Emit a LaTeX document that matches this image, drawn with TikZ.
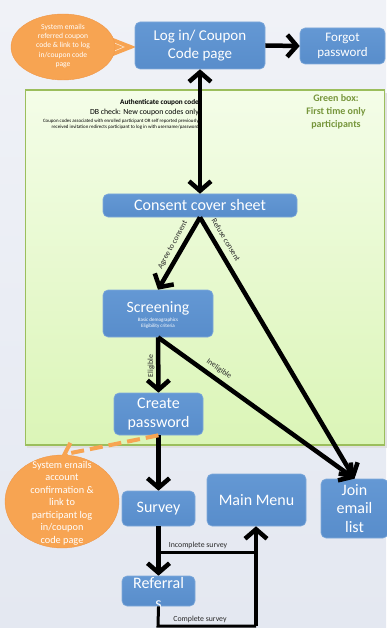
\documentclass[tikz,border=0pt]{standalone}
\usepackage{fontspec}
\setmainfont{Carlito}
\usetikzlibrary{arrows.meta,shapes.geometric}
\definecolor{bgtop}{RGB}{240,242,247}
\definecolor{bgbot}{RGB}{228,232,241}
\definecolor{boxblue}{RGB}{88,141,203}
\definecolor{boxbluetop}{RGB}{100,152,212}
\definecolor{boxedge}{RGB}{128,170,218}
\definecolor{orng}{RGB}{247,164,82}
\definecolor{orngdark}{RGB}{240,150,70}
\definecolor{gtop}{RGB}{244,253,232}
\definecolor{gbot}{RGB}{219,245,183}
\definecolor{gedge}{RGB}{155,190,92}
\definecolor{gtext}{RGB}{119,150,60}
\definecolor{lbl}{RGB}{40,40,40}
\newcommand\myfs[2]{\fontsize{#1}{#2}\selectfont}
\tikzset{
  bbox/.style={draw=boxedge, line width=0.6pt, top color=boxbluetop, bottom color=boxblue,
    rounded corners=5pt, text=white, align=center, inner sep=0pt},
  arr/.style={line width=4.5pt, -{Straight Barb[length=9.5pt,width=22pt]}},
  darr/.style={line width=4.5pt, {Straight Barb[length=9.5pt,width=22pt]}-{Straight Barb[length=9.5pt,width=22pt]}},
  thinln/.style={line width=3pt},
  odash/.style={line width=4pt, draw=orng, dash pattern=on 13pt off 6pt, -{Straight Barb[length=8pt,width=20pt]}},
  oell/.style={ellipse, fill=orng, draw=orngdark, line width=0.4pt, inner sep=0pt},
  otext/.style={text=white, align=center, inner sep=0pt},
  elbl/.style={text=lbl, font=\myfs{7.8}{9}, inner sep=1pt}
}
\begin{document}
\begin{tikzpicture}[x=1pt,y=-1pt]
\useasboundingbox (0,0) rectangle (386,628);
% background
\shade[top color=bgtop, bottom color=bgbot] (0,0) rectangle (386,628);
% green box
\fill[black!12] (27,93) rectangle (387,448);
\node[draw=gedge, line width=1.6pt, top color=gtop, bottom color=gbot, minimum width=359, minimum height=355, inner sep=0pt] (gbox) at (205,267.5) {};
\node[text=gtext, font=\bfseries\myfs{10}{13}, align=center] (gtitle) at (336,112) {Green box:\\First time only\\participants};
\node[anchor=east, align=right, inner sep=0pt, font=\myfs{7.8}{10}] (auth) at (199,108) {{\bfseries\myfs{7.2}{10}Authenticate coupon code}\\DB check: New coupon codes only};
\node[anchor=east, align=right, inner sep=0pt, font=\myfs{4.9}{6}] (authsmall) at (199,124) {Coupon codes associated with enrolled participant OR self reported previously\\received invitation redirects participant to log in with username/password};

% top ellipse
\fill[orng] (108,36) -- (136,47) -- (108,58) -- cycle;
\draw[white!70!orng, line width=0.6pt] (112,42) -- (124,47) -- (112,52);
\node[oell, minimum width=104, minimum height=66] (em1) at (63,47) {};
\node[otext, font=\myfs{7.6}{9.3}] (em1t) at (63,46) {System emails\\referred coupon\\code \& link to log\\in/coupon code\\page};

% boxes
\node[bbox, minimum width=130, minimum height=47, font=\myfs{15}{18.5}] (login) at (200,45.5) {Log in/ Coupon\\Code page};
\node[bbox, minimum width=85, minimum height=36, font=\myfs{13}{15.5}] (forgot) at (342.5,46) {Forgot\\password};
\node[bbox, minimum width=194, minimum height=23, font=\myfs{16}{18}] (consent) at (200,205.5) {Consent cover sheet};
\node[bbox, minimum width=110, minimum height=47] (screen) at (158,313.5) {};
\node[text=white, inner sep=0pt, font=\myfs{15.8}{18}] (screent) at (158,308) {Screening};
\node[text=white, inner sep=0pt, align=center, font=\myfs{5}{6.2}] (screensub) at (158,323) {Basic demographics\\Eligibility criteria};
\node[bbox, minimum width=89, minimum height=42, font=\myfs{16}{18.5}] (create) at (158.5,414) {Create\\password};
\node[bbox, minimum width=73, minimum height=35, font=\myfs{16}{18.5}] (survey) at (158.5,508.5) {Survey};
\node[bbox, minimum width=99, minimum height=52, font=\myfs{16}{18.5}] (mainmenu) at (256.5,500) {Main Menu};
\node[bbox, minimum width=67, minimum height=59, font=\myfs{16}{18.5}] (join) at (354.5,508.5) {Join\\email\\list};
\node[bbox, minimum width=73, minimum height=30] (ref) at (158.5,591) {};
\node[text=white, align=center, inner sep=0pt, font=\myfs{16}{20}] (reft) at (158.5,593) {Referral\\s};

% bottom ellipse
\node[oell, minimum width=114, minimum height=93] (em2) at (62,501.5) {};
\node[otext, font=\myfs{10.3}{12.5}] (em2t) at (62,503) {System emails\\account\\confirmation \&\\link to\\participant log\\in/coupon\\code page};

% labels
\node[elbl, rotate=90] (lelig) at (151,366) {Eligible};

% connectors
\draw[darr] (consent.north) -- (login.south);
\draw[arr] (login.east) -- (forgot.west);
\draw[arr] (consent.south) -- (screen.north);
\draw[arr] (consent.south) -- (join.north);
\draw[arr] (screen.south) -- (create.north);
\draw[arr] (screen.south) -- (join.north);
\draw[arr] (create.south) -- (survey.north);
\draw[arr] (survey.south) -- (ref.north);
\draw[odash] (create.south) -- (em2.north);

\coordinate (j1) at (158,552);
\coordinate (j2) at (256,552);
\coordinate (j3) at (158,626);
\coordinate (j4) at (256,626);
\draw[thinln] (j1) -- (j2);
\draw[thinln] (ref.south) -- (j3) -- (j4);
\draw[arr] (j4) -- (j4 |- mainmenu.south);

\node[elbl, rotate=61.5] (lagree) at (173,245) {Agree to consent};
\node[elbl, rotate=-59] (lrefuse) at (226,240) {Refuse consent};
\node[elbl, rotate=-35] (linel) at (219,369) {Ineligible};
\node[elbl] (linc) at (198,545) {Incomplete survey};
\node[elbl] (lcomp) at (200,619) {Complete survey};
\end{tikzpicture}
\end{document}
